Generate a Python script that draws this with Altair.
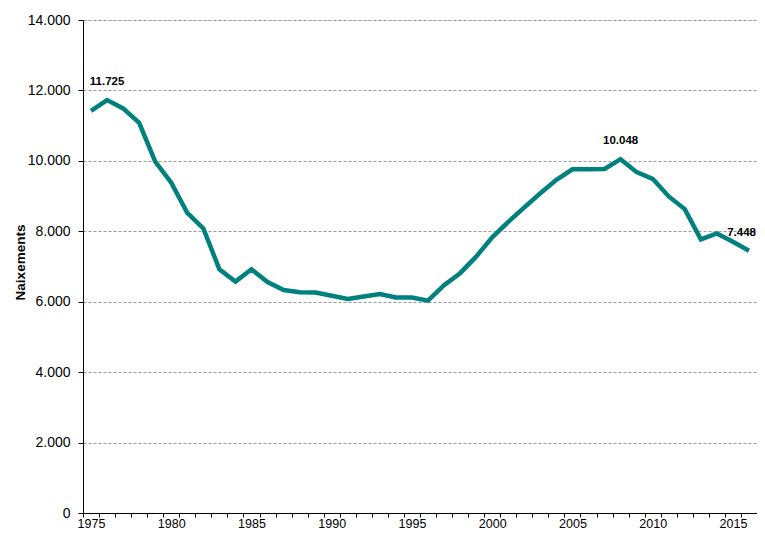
import altair as alt
import pandas as pd

years = [1975, 1976, 1977, 1978, 1979, 1980, 1981, 1982, 1983, 1984,
         1985, 1986, 1987, 1988, 1989, 1990, 1991, 1992, 1993, 1994,
         1995, 1996, 1997, 1998, 1999, 2000, 2001, 2002, 2003, 2004,
         2005, 2006, 2007, 2008, 2009, 2010, 2011, 2012, 2013, 2014,
         2015, 2016]
births = [11420, 11725, 11490, 11080, 9980, 9380, 8520, 8080, 6920, 6570,
          6920, 6560, 6330, 6270, 6260, 6170, 6080, 6150, 6220, 6120,
          6120, 6030, 6470, 6810, 7280, 7830, 8270, 8680, 9080, 9460,
          9760, 9760, 9770, 10048, 9680, 9490, 8990, 8630, 7770, 7940,
          7700, 7448]
labelled_years = [1976, 2008]
last_year = [2016]
y_ticks = [0, 2000, 4000, 6000, 8000, 10000, 12000, 14000]

df = pd.DataFrame({"Any": years, "Naixements": births})
df["lab"] = df["Any"].isin(labelled_years)
df["last"] = df["Any"].isin(last_year)

FONT = "Liberation Sans"

x_enc = alt.X(
    "Any:O",
    bandPosition=0.5,
    scale=alt.Scale(type="band", paddingInner=0, paddingOuter=0),
    axis=alt.Axis(
        title=None,
        labelAngle=0,
        tickBand="extent",
        labelExpr="datum.value % 5 == 0 ? datum.label : ''",
        labelOverlap=False,
        labelFont=FONT,
        labelFontSize=12.5,
        labelColor="#000000",
        labelPadding=0,
        tickSize=4,
        tickColor="#000000",
        domainColor="#000000",
        grid=False,
    ),
)

y_enc = alt.Y(
    "Naixements:Q",
    scale=alt.Scale(domain=[0, 14000], nice=False),
    axis=alt.Axis(
        values=y_ticks,
        labelExpr="replace(format(datum.value, ','), ',', '.')",
        labelFont=FONT,
        labelFontSize=14,
        labelColor="#000000",
        labelPadding=8,
        tickSize=5,
        tickColor="#000000",
        domainColor="#000000",
        grid=True,
        gridColor="#9a9a9a",
        gridDash=[3, 2],
        gridWidth=1,
        title="Naixements",
        titleFont=FONT,
        titleFontSize=13.5,
        titleFontWeight="bold",
        titleColor="#000000",
        titleX=-63,
        titleY=242,
        titleAngle=-90,
        titleAlign="center",
        titleBaseline="middle",
    ),
)

line = alt.Chart(df).mark_line(color="#00817D", strokeWidth=4.5, strokeJoin="miter").encode(
    x=x_enc, y=y_enc
)

text = (
    alt.Chart(df)
    .transform_filter("datum.lab")
    .transform_calculate(txt="replace(format(datum.Naixements, ','), ',', '.')")
    .mark_text(font=FONT, fontSize=11.5, fontWeight="bold", color="#000000", dy=-18)
    .encode(x=x_enc, y=y_enc, text="txt:N")
)

text_last = (
    alt.Chart(df)
    .transform_filter("datum.last")
    .transform_calculate(txt="replace(format(datum.Naixements, ','), ',', '.')")
    .mark_text(font=FONT, fontSize=11.5, fontWeight="bold", color="#000000",
               dy=-18, dx=7, align="right")
    .encode(x=x_enc, y=y_enc, text="txt:N")
)

chart = (
    alt.layer(line, text, text_last)
    .properties(
        width=674,
        height=493,
        autosize=alt.AutoSizeParams(type="none"),
        padding={"left": 75, "top": 12, "right": 0, "bottom": 17},
    )
    .configure_view(stroke=None)
    .configure(background="#ffffff")
)

chart.save("out.html", embed_options={"renderer": "svg", "actions": False})
